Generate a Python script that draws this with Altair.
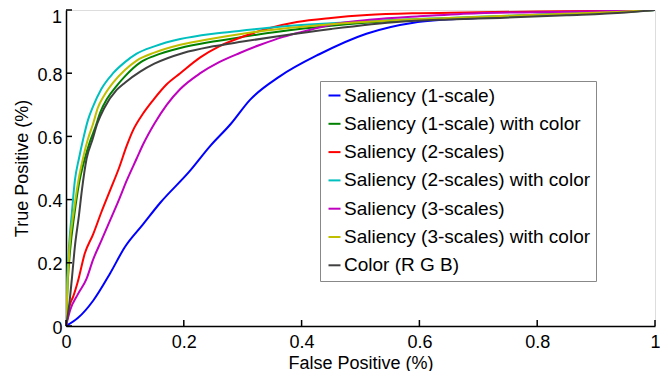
import altair as alt
import pandas as pd

names = [
    "Saliency (1-scale)",
    "Saliency (1-scale) with color",
    "Saliency (2-scales)",
    "Saliency (2-scales) with color",
    "Saliency (3-scales)",
    "Saliency (3-scales) with color",
    "Color (R G B)",
]
colors = ["#0000FF", "#008000", "#FF0000", "#00BFBF", "#BF00BF", "#BFBF00", "#404040"]

blue_x = [0, 0.02, 0.046, 0.075, 0.1, 0.13, 0.16, 0.21, 0.245, 0.28, 0.312, 0.363, 0.43, 0.51, 0.59, 0.7, 0.8, 0.9, 1.0]
blue_y = [0, 0.025, 0.08, 0.167, 0.25, 0.32, 0.39, 0.49, 0.57, 0.64, 0.715, 0.79, 0.86, 0.925, 0.96, 0.975, 0.985, 0.992, 1.0]

green_x = [0, 0.003, 0.007, 0.014, 0.022, 0.032, 0.04, 0.05, 0.058, 0.07, 0.086, 0.1, 0.127, 0.15, 0.194, 0.25, 0.3, 0.363, 0.45, 0.55, 0.65, 0.75, 0.85, 0.95, 1.0]
green_y = [0, 0.14, 0.24, 0.35, 0.45, 0.53, 0.58, 0.63, 0.675, 0.72, 0.76, 0.79, 0.835, 0.855, 0.88, 0.9, 0.915, 0.932, 0.95, 0.965, 0.973, 0.98, 0.987, 0.994, 1.0]

red_x = [0, 0.007, 0.012, 0.02, 0.032, 0.046, 0.06, 0.075, 0.09, 0.103, 0.114, 0.13, 0.148, 0.171, 0.194, 0.228, 0.26, 0.295, 0.34, 0.392, 0.45, 0.511, 0.6, 0.7, 0.8, 0.9, 1.0]
red_y = [0, 0.07, 0.092, 0.14, 0.23, 0.29, 0.36, 0.43, 0.5, 0.57, 0.62, 0.67, 0.715, 0.765, 0.8, 0.85, 0.885, 0.912, 0.94, 0.962, 0.975, 0.984, 0.99, 0.993, 0.995, 0.997, 1.0]

cyan_x = [0, 0.002, 0.005, 0.01, 0.015, 0.022, 0.029, 0.037, 0.046, 0.06, 0.08, 0.1, 0.12, 0.15, 0.194, 0.25, 0.3, 0.363, 0.45, 0.55, 0.65, 0.75, 0.85, 0.95, 1.0]
cyan_y = [0, 0.15, 0.25, 0.36, 0.46, 0.53, 0.59, 0.65, 0.695, 0.75, 0.8, 0.835, 0.862, 0.885, 0.908, 0.925, 0.935, 0.947, 0.958, 0.968, 0.975, 0.982, 0.988, 0.995, 1.0]

magenta_x = [0, 0.007, 0.02, 0.035, 0.046, 0.06, 0.075, 0.09, 0.103, 0.12, 0.131, 0.15, 0.171, 0.194, 0.228, 0.26, 0.295, 0.33, 0.369, 0.41, 0.453, 0.52, 0.6, 0.7, 0.8, 0.9, 1.0]
magenta_y = [0, 0.05, 0.1, 0.15, 0.21, 0.27, 0.335, 0.4, 0.46, 0.53, 0.575, 0.64, 0.7, 0.75, 0.8, 0.835, 0.864, 0.89, 0.915, 0.935, 0.955, 0.97, 0.98, 0.99, 0.993, 0.996, 1.0]

yellow_x = [0, 0.003, 0.006, 0.013, 0.021, 0.03, 0.037, 0.046, 0.054, 0.065, 0.08, 0.1, 0.12, 0.15, 0.194, 0.25, 0.3, 0.363, 0.45, 0.55, 0.65, 0.75, 0.85, 0.95, 1.0]
yellow_y = [0, 0.15, 0.25, 0.36, 0.46, 0.54, 0.59, 0.64, 0.69, 0.73, 0.77, 0.81, 0.84, 0.865, 0.89, 0.91, 0.925, 0.94, 0.955, 0.967, 0.975, 0.982, 0.988, 0.995, 1.0]

gray_x = [0, 0.005, 0.01, 0.015, 0.022, 0.027, 0.035, 0.045, 0.053, 0.065, 0.086, 0.1, 0.126, 0.15, 0.199, 0.25, 0.3, 0.363, 0.45, 0.567, 0.65, 0.737, 0.85, 0.95, 1.0]
gray_y = [0, 0.06, 0.15, 0.25, 0.35, 0.43, 0.53, 0.59, 0.64, 0.69, 0.747, 0.77, 0.805, 0.83, 0.864, 0.885, 0.9, 0.918, 0.94, 0.963, 0.97, 0.975, 0.983, 0.992, 1.0]

tick_values = [0, 0.2, 0.4, 0.6, 0.8, 1.0]
top_label = ["1"]

series = [
    (blue_x, blue_y), (green_x, green_y), (red_x, red_y), (cyan_x, cyan_y),
    (magenta_x, magenta_y), (yellow_x, yellow_y), (gray_x, gray_y),
]
rows = []
for name, (xs, ys) in zip(names, series):
    for i, (a, b) in enumerate(zip(xs, ys)):
        rows.append({"series": name, "fpr": a, "tpr": b, "idx": i})
df = pd.DataFrame(rows)

FONT = "Liberation Sans"
W, H = 589, 316

xs_scale = alt.Scale(domain=[0, 1], nice=False, zero=False)
ys_scale = alt.Scale(domain=[0, 1], nice=False, zero=False)

xaxis = alt.Axis(values=tick_values, format=".1~f", title="False Positive (%)", grid=False,
                 ticks=False, domainColor="black", domainWidth=1.5, labelFont=FONT,
                 labelFontSize=18, labelColor="black", labelPadding=7, labelFlush=False,
                 titleFont=FONT, titleFontSize=18, titleFontWeight="normal",
                 titleColor="black", titlePadding=3)
yaxis = alt.Axis(values=tick_values, format=".1~f", title="True Positive (%)", grid=False,
                 ticks=False, domainColor="black", domainWidth=1.5, labelFont=FONT,
                 labelFontSize=18, labelColor="black", labelPadding=4, labelFlush=False,
                 labelOffset=2, labelExpr="datum.value == 1 ? '' : datum.label",
                 titleFont=FONT, titleFontSize=18, titleFontWeight="normal",
                 titleColor="black", titlePadding=5)

lines = alt.Chart(df).mark_line(strokeWidth=2, clip=True, interpolate="monotone").encode(
    x=alt.X("fpr:Q", scale=xs_scale, axis=xaxis),
    y=alt.Y("tpr:Q", scale=ys_scale, axis=yaxis),
    color=alt.Color("series:N", sort=names,
                    scale=alt.Scale(domain=names, range=colors),
                    legend=alt.Legend(orient="none", legendX=254, legendY=71, title=None,
                                      symbolType="stroke", symbolSize=144,
                                      symbolStrokeWidth=2, labelFont=FONT,
                                      labelFontSize=19, labelColor="black",
                                      labelLimit=500, rowPadding=8.3, padding=5,
                                      strokeColor="#888888", fillColor="white",
                                      labelOffset=0)),
    order="idx:Q",
)

xt = pd.DataFrame({"fpr": tick_values})
yt = pd.DataFrame({"tpr": tick_values})
xticks = alt.Chart(xt).mark_rule(color="black", strokeWidth=1.5).encode(
    x=alt.X("fpr:Q", scale=xs_scale, axis=xaxis),
    y=alt.value(H), y2=alt.value(H - 6),
)
yticks = alt.Chart(yt).mark_rule(color="black", strokeWidth=1.5).encode(
    y=alt.Y("tpr:Q", scale=ys_scale, axis=yaxis),
    x=alt.value(0), x2=alt.value(6),
)
toplab = alt.Chart(pd.DataFrame({"tpr": [1.0], "lab": top_label})).mark_text(
    font=FONT, fontSize=18, color="black", align="right", baseline="alphabetic", dx=-4, dy=13
).encode(
    y=alt.Y("tpr:Q", scale=ys_scale, axis=yaxis),
    x=alt.value(0),
    text="lab:N",
)

chart = alt.layer(lines, xticks, yticks, toplab).properties(
    width=W, height=H,
    autosize=alt.AutoSizeParams(type="none"),
    padding={"left": 58, "top": 2, "right": 5, "bottom": 45},
).configure_view(stroke=None).configure(background="white")

chart.save("out.html", embed_options={"renderer": "svg", "actions": False})
